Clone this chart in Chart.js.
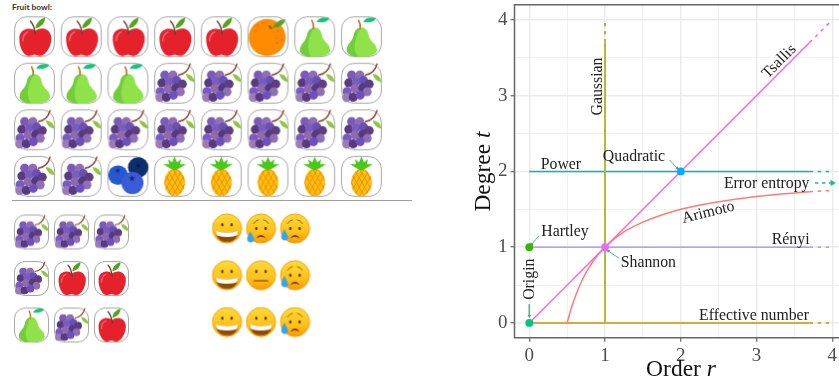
<!DOCTYPE html>
<html><head><meta charset="utf-8">
<script src="https://cdn.jsdelivr.net/npm/chart.js@4"></script>
<style>
html,body{margin:0;padding:0;background:#fff;width:839px;height:384px;overflow:hidden}
canvas{position:absolute;display:block;filter:blur(0.35px)}
#title{position:absolute;left:12px;top:2px;font:700 8.4px Lato,sans-serif;color:#333;line-height:11px}
#rule{position:absolute;left:12px;top:199.5px;width:400px;height:1.5px;background:#a0a0a0}
</style></head><body>
<div id="title">Fruit bowl:</div><div id="rule"></div>
<canvas id="bowl" width="420" height="198" style="left:0;top:0"></canvas>
<canvas id="sample" width="140" height="140" style="left:0;top:205px"></canvas>
<canvas id="faces" width="130" height="140" style="left:200px;top:205px"></canvas>
<canvas id="plane" width="369" height="384" style="left:470px;top:0"></canvas>
<script>
// ---------- Left panel content ----------
const bowlRows = [
  ['apple','apple','apple','apple','apple','orange','pear','pear'],
  ['pear','pear','pear','grape','grape','grape','grape','grape'],
  ['grape','grape','grape','grape','grape','grape','grape','grape'],
  ['grape','grape','blueberry','pineapple','pineapple','pineapple','pineapple','pineapple']
];
const sampleRows = [
  ['grape','grape','grape'],
  ['grape','apple','apple'],
  ['pear','grape','apple']
];
const faceRows = [
  ['grin','tear','sweat'],
  ['grin','neutral','sweat'],
  ['grin','grin','sweat']
];
// ---------- Right panel values ----------
const xTicks = [0,0.5,1,1.5,2,2.5,3,3.5,4];
const yTicks = [0,0.5,1,1.5,2,2.5,3,3.5,4];
const tsallisR = [0,3.7], tsallisT = [0,3.7];
const tsallisDashR = [3.7,4], tsallisDashT = [3.7,4];
const gaussianR = [1,1], gaussianT = [0,3.7];
const gaussianDashR = [1,1], gaussianDashT = [3.7,4];
const powerR = [0,3.7], powerT = [2,2];
const powerDashR = [3.7,4], powerDashT = [2,2];
const renyiR = [0,3.7], renyiT = [1,1];
const renyiDashR = [3.7,4], renyiDashT = [1,1];
const effectiveR = [0,3.7], effectiveT = [0,0];
const effectiveDashR = [3.7,4], effectiveDashT = [0,0];
const arimotoR = [0.5,0.55,0.6,0.7,0.8,0.9,1,1.2,1.5,2,2.5,3,3.7];
const arimotoT = [0,0.18,0.33,0.57,0.75,0.89,1,1.17,1.33,1.5,1.6,1.67,1.73];
const arimotoDashR = [3.7,4], arimotoDashT = [1.73,1.75];
const errorR = [3.77,4], errorT = [1.848,1.848];
const pointNames = ['Origin','Hartley','Shannon','Quadratic'];
const pointR = [0,0,1,2];
const pointT = [0,1,1,2];
const labelTexts = ['Power','Gaussian','Quadratic','Tsallis','Error entropy','Arimoto','Rényi','Hartley','Shannon','Origin','Effective number'];
const labelR = [0.418,0.911,1.382,3.30,3.134,2.363,3.45,0.471,1.572,0.01,2.966];
const labelT = [2.09,3.12,2.195,3.45,1.84,1.456,1.096,1.2,0.796,0.577,0.092];
const labelAngle = [0,-90,0,-45,0,-14,0,0,0,-90,0];
const leaderFromR = [1.848,0.128,1.184,0];
const leaderFromT = [2.152,1.149,0.854,0.247];
const leaderToR = [1.954,0.032,1.043,0];
const leaderToT = [2.042,1.039,0.95,0.092];

// ---------- Icon drawing ----------
function P(c,d,fill,stroke,lw){const p=new Path2D(d);if(fill){c.fillStyle=fill;c.fill(p)}if(stroke){c.strokeStyle=stroke;c.lineWidth=lw;c.lineCap='round';c.stroke(p)}}
function circle(c,x,y,r,fill){c.beginPath();c.arc(x,y,r,0,7);c.fillStyle=fill;c.fill()}
function star(c,x,y,r,fill){c.beginPath();for(let i=0;i<10;i++){const a=-Math.PI/2+i*Math.PI/5,q=i%2?r*.42:r;c.lineTo(x+q*Math.cos(a),y+q*Math.sin(a))}c.closePath();c.fillStyle=fill;c.fill()}
const art = {
  apple(c){
    P(c,'M52,36 C62,26 88,26 91,52 C92,75 76,97 64,97 C57,97 55,94 50,94 C45,94 43,97 36,97 C24,97 12,76 13,52 C15,28 42,26 52,36Z','#E5222C');
    P(c,'M21,60 Q22,43 34,38',null,'rgba(255,255,255,.35)',3.5);
    P(c,'M52,44 Q50,22 40,12',null,'#6B3B2E',3.5);
    P(c,'M52,30 Q54,10 76,3 Q76,24 52,30Z','#4FA51B');
  },
  pear(c){
    P(c,'M48,28 C60,26 66,36 68,48 C71,62 88,68 88,83 C88,94 70,99 50,99 C30,99 14,94 14,83 C14,68 28,62 31,48 C33,36 38,29 48,28Z','#8FE348');
    P(c,'M48,28 C38,29 33,36 31,48 C28,62 14,68 14,83 C14,94 30,99 42,99 C30,85 30,60 48,28Z','#72CC3C');
    P(c,'M47,30 Q48,18 43,10',null,'#C9722C',4);
    P(c,'M54,14 Q62,0 86,4 Q80,18 54,14Z','#14C47A');
  },
  grape(c){
    P(c,'M60,30 Q82,26 88,3',null,'#8E4A3B',3.5);
    P(c,'M77,27 Q95,28 99,47 Q82,45 77,27Z','#8CC63F');
    [[26,30,'#7A5CB8'],[46,30,'#8F6FB3'],[19,49,'#5A3A7E'],[37,46,'#7A5CC0'],[55,43,'#6B4FB5'],[34,63,'#8E6AAE'],[15,70,'#7A5AC0'],[53,61,'#55397F'],[69,52,'#5C3F80'],[64,71,'#9070B0'],[14,85,'#9A7CB8'],[30,84,'#56397E'],[47,79,'#6F50BB']]
      .forEach(g=>circle(c,g[0],g[1],11,g[2]));
  },
  orange(c){
    circle(c,48,52,45,'#FF8B00');
    [[25,22],[38,16],[74,36],[82,46],[70,54],[84,58],[72,66],[20,36]].forEach(d=>circle(c,d[0],d[1],2.4,'#F46C08'));
    P(c,'M60,28 Q75,5 93,8 Q85,30 60,28Z','#5E9F25');
    P(c,'M52,24 L60,30 M56,24 L54,30',null,'#7A4A22',2.5);
  },
  blueberry(c){
    circle(c,75,28,25,'#0E2F6E'); star(c,75,24,7,'#061B42');
    circle(c,26,47,24,'#2458D0'); star(c,25,36,7,'#123078');
    circle(c,61,66,27,'#3A5BD6'); star(c,60,55,8,'#14276E');
  },
  pineapple(c){
    c.save();c.beginPath();c.ellipse(50,65,25,33,0,0,7);c.fillStyle='#FFC20E';c.fill();c.clip();
    c.strokeStyle='#F08A00';c.lineWidth=2.2;
    for(let i=-60;i<=120;i+=13){c.beginPath();c.moveTo(i,30);c.lineTo(i+40,100);c.stroke();c.beginPath();c.moveTo(i+40,30);c.lineTo(i,100);c.stroke()}
    c.restore();
    P(c,'M50,2 L56,16 L66,8 L63,20 L78,20 L62,30 L50,36 L38,30 L22,20 L37,20 L34,8 L44,16Z','#47C81A');
  }
};
const faceArt = {
  base(c){
    const g=c.createLinearGradient(0,0,0,100);g.addColorStop(0,'#FFDB3C');g.addColorStop(.6,'#FFC21A');g.addColorStop(1,'#FB9400');
    c.beginPath();c.arc(50,50,47,0,7);c.fillStyle=g;c.fill();c.strokeStyle='#F2A10C';c.lineWidth=3;c.stroke();
  },
  eyes(c,y){[35,65].forEach(x=>{c.beginPath();c.ellipse(x,y,4,5.5,0,0,7);c.fillStyle='#5E3A10';c.fill()})},
  grin(c){faceArt.base(c);faceArt.eyes(c,38);
    P(c,'M14,57 Q50,69 86,57 Q84,93 50,93 Q16,93 14,57Z','#8B4C06');
    P(c,'M14,57 Q50,69 86,57 Q84,72 78,74 Q50,81 22,74 Q16,72 14,57Z','#FFFFFF');
  },
  neutral(c){faceArt.base(c);faceArt.eyes(c,38);P(c,'M28,68 L72,68',null,'#5E3A10',3.5)},
  sad(c,dy){faceArt.base(c);faceArt.eyes(c,50);
    P(c,'M26,34 Q32,24 42,22 M74,34 Q68,24 58,22',null,'#8A5A10',3);
    P(c,'M34,82 Q50,60 66,82 Q50,72 34,82Z','#5E3A10');
    P(c,'M16,'+(52+dy)+' C8,'+(68+dy)+' 4,'+(74+dy)+' 6,'+(80+dy)+' C8,'+(92+dy)+' 26,'+(92+dy)+' 28,'+(80+dy)+' C28,'+(74+dy)+' 22,'+(66+dy)+' 16,'+(52+dy)+'Z','#35A6EA');
  },
  tear(c){faceArt.sad(c,6)},
  sweat(c){faceArt.sad(c,0)}
};
function fruitIcon(kind,size){
  const cv=document.createElement('canvas');cv.width=cv.height=size;
  const c=cv.getContext('2d');const k=(size-2)/100;c.translate(1,1);c.scale(k,k);
  c.beginPath();c.roundRect(1.5,1.5,97,97,30);c.fillStyle='#fff';c.fill();c.strokeStyle='#a6a6a6';c.lineWidth=1/k;c.stroke();
  art[kind](c);
  return cv;
}
function faceIcon(kind,size){
  const cv=document.createElement('canvas');cv.width=cv.height=size;
  const c=cv.getContext('2d');c.scale(size/100,size/100);faceArt[kind](c);return cv;
}
function iconChart(id,rows,makeIcon,xr,yr){
  const kinds=[...new Set(rows.flat())];
  new Chart(document.getElementById(id),{
    type:'scatter',
    data:{datasets:kinds.map(k=>{
      const pts=[];rows.forEach((row,r)=>row.forEach((v,col)=>{if(v===k)pts.push({x:col,y:r})}));
      return {label:k,data:pts,pointStyle:makeIcon(k),pointRadius:20,pointHoverRadius:20,clip:false};
    })},
    options:{responsive:false,animation:false,events:[],
      layout:{padding:0,autoPadding:false},
      plugins:{legend:{display:false},tooltip:{enabled:false}},
      scales:{x:{display:false,min:xr[0],max:xr[1]},y:{display:false,reverse:true,min:yr[0],max:yr[1]}}}
  });
}
iconChart('bowl',bowlRows,k=>fruitIcon(k,43),[-34.5/46.7,(420-34.5)/46.7],[-36.7/46.55,(198-36.7)/46.55]);
iconChart('sample',sampleRows,k=>fruitIcon(k,37),[-31.5/40,(140-31.5)/40],[-27/46.5,(140-27)/46.5]);
iconChart('faces',faceRows,k=>faceIcon(k,31),[-27/34,(130-27)/34],[-23.5/46.75,(140-23.5)/46.75]);

// ---------- Order / degree plane ----------
const zip=(a,b)=>a.map((v,i)=>({x:v,y:b[i]}));
const serif='"Liberation Serif","Times New Roman",serif';
const line=(label,r,t,color,dash,width)=>({label,data:zip(r,t),showLine:true,borderColor:color,backgroundColor:color,borderWidth:width||1.5,borderDash:dash||[],pointRadius:0,pointHoverRadius:0,borderCapStyle:'butt'});
const D=[3.5,4.5];
const leaderAngles=[135,-135,-45,180];
const datasets=[
  {label:'Points',data:zip(pointR,pointT),showLine:false,pointRadius:3.9,pointHoverRadius:3.9,pointBorderWidth:0,clip:false,
   pointBackgroundColor:['#00C47F','#35B500','#E76BF3','#00AEFF']},
  ...leaderFromR.map((_,i)=>({label:'To '+pointNames[[3,1,2,0][i]],data:[{x:leaderFromR[i],y:leaderFromT[i]},{x:leaderToR[i],y:leaderToT[i]}],showLine:true,borderColor:'#5DB09A',borderWidth:1,
    pointStyle:'triangle',pointRadius:[0,2],pointHoverRadius:0,pointBackgroundColor:'#3FA98C',pointBorderWidth:0,pointRotation:[0,leaderAngles[i]]})),
  {...line('Error entropy arrow',errorR,errorT,'#1DBF7F',[3.5,3.5],1.5),pointStyle:'triangle',pointRadius:[0,3.6],pointRotation:[0,90],pointBackgroundColor:'#1DBF7F',pointBorderWidth:0},
  line('Tsallis',tsallisR,tsallisT,'#FF69C4'),
  line('Tsallis limit',tsallisDashR,tsallisDashT,'#FF69C4',D),
  line('Gaussian',gaussianR,gaussianT,'#B5B53C',[],2),
  line('Gaussian limit',gaussianDashR,gaussianDashT,'#B5B53C',D,2),
  line('Power',powerR,powerT,'#00B8BC'),
  line('Power limit',powerDashR,powerDashT,'#00B8BC',D),
  {...line('Arimoto',arimotoR,arimotoT,'#FF7B73'),cubicInterpolationMode:'monotone'},
  line('Arimoto limit',arimotoDashR,arimotoDashT,'#FF7B73',D),
  line('Rényi',renyiR,renyiT,'#B49CFF'),
  line('Rényi limit',renyiDashR,renyiDashT,'#B49CFF',D),
  line('Effective number',effectiveR,effectiveT,'#DCA63A',[],2),
  line('Effective number limit',effectiveDashR,effectiveDashT,'#DCA63A',D,2)
];
const isMajor=v=>Number.isInteger(v);
const axis=(ticks)=>({
  border:{display:false},
  afterBuildTicks:s=>{s.ticks=ticks.map(v=>({value:v}))},
  grid:{color:'#EBEBEB',lineWidth:c=>c.tick&&isMajor(c.tick.value)?1.5:0.75,tickLength:4,
        tickColor:c=>c.tick&&isMajor(c.tick.value)?'#6a6a6a':'rgba(0,0,0,0)',tickWidth:1.2},
  ticks:{autoSkip:false,maxRotation:0,minRotation:0,color:'#4D4D4D',font:{family:serif,size:19},
         callback:v=>isMajor(v)?String(v):''}
});
const annotate={
  id:'annotate',
  afterDatasetsDraw(ch){
    const {ctx:c,scales:{x,y},chartArea:a}=ch;
    c.save();
    c.strokeStyle='#666';c.lineWidth=1.5;c.beginPath();
    c.moveTo(a.right+2,a.top);c.lineTo(a.left,a.top);c.lineTo(a.left,a.bottom);c.lineTo(a.right+2,a.bottom);c.stroke();
    c.fillStyle='#222';c.textAlign='center';c.textBaseline='middle';c.font='15.8px '+serif;
    labelTexts.forEach((t,i)=>{
      c.save();c.translate(x.getPixelForValue(labelR[i]),y.getPixelForValue(labelT[i]));
      c.rotate(labelAngle[i]*Math.PI/180);c.fillText(t,0,0);c.restore();
    });
    const title=(a1,b1)=>{
      c.font='23.5px '+serif;const w1=c.measureText(a1).width;
      c.font='italic 23.5px '+serif;const w2=c.measureText(b1).width;
      const s=-(w1+w2)/2;c.textAlign='left';c.textBaseline='alphabetic';c.fillStyle='#111';
      c.font='23.5px '+serif;c.fillText(a1,s,0);
      c.font='italic 23.5px '+serif;c.fillText(b1,s+w1,0);
    };
    c.save();c.translate(681-470,376);title('Order ','r');c.restore();
    c.save();c.translate(490-470,171.5);c.rotate(-Math.PI/2);title('Degree ','t');c.restore();
    c.restore();
  }
};
const noPad=s=>{s.paddingTop=0;s.paddingBottom=0;s.paddingLeft=0;s.paddingRight=0};
new Chart(document.getElementById('plane'),{
  type:'scatter',
  data:{datasets},
  plugins:[annotate],
  options:{responsive:false,animation:false,events:[],
    layout:{padding:{top:4.7,right:0,left:0,bottom:0},autoPadding:false},
    plugins:{legend:{display:false},tooltip:{enabled:false}},
    scales:{
      x:{...axis(xTicks),min:-0.195,max:4.088,afterFit:s=>{s.height=46.3;noPad(s)}},
      y:{...axis(yTicks),min:-0.195,max:4.2,afterFit:s=>{s.width=44.5;noPad(s)}}
    }}
});
</script>
</body></html>
